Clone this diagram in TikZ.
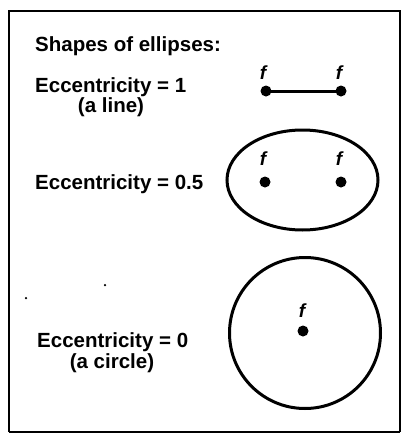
\documentclass[tikz,border=0pt]{standalone}
\usepackage{fontspec}
\setmainfont{Liberation Sans}
\usetikzlibrary{shapes.geometric}
\begin{document}
\begin{tikzpicture}[x=1pt,y=-1pt,
  lbl/.style={inner sep=0pt,anchor=base west,font=\fontsize{20.5}{22}\selectfont\bfseries},
  sub/.style={inner sep=0pt,anchor=base,font=\fontsize{20.5}{22}\selectfont\bfseries},
  foc/.style={circle,fill=black,inner sep=0pt,minimum size=11pt},
  flbl/.style={inner sep=0pt,font=\fontsize{19}{20}\selectfont\bfseries\itshape},
  outl/.style={draw,line width=3pt,inner sep=0pt},
  speck/.style={circle,fill=black,inner sep=0pt,minimum size=2.5pt}]
\useasboundingbox (0,0) rectangle (404,434);
\fill[white] (0,0) rectangle (404,434);
% frame
\draw[line width=2.4pt] (9,432) -- (9,11) -- (400,11) -- (400,432);
\draw[line width=1.2pt] (9,432) -- (400,432);
% texts
\node[lbl] (title) at (35,51) {Shapes of ellipses:};
\node[lbl] (e1) at (35,92) {Eccentricity = 1};
\node[sub] (e1b) at (111,112) {(a line)};
\node[lbl] (e2) at (35,189) {Eccentricity = 0.5};
\node[lbl] (e3) at (37,347) {Eccentricity = 0};
\node[sub] (e3b) at (112,368) {(a circle)};
% line (e = 1)
\node[foc] (l1) at (266,91) {};
\node[foc] (l2) at (341,91) {};
\draw[line width=3pt] (l1.center) -- (l2.center);
\node[flbl] (fl1) at (263,73) {f};
\node[flbl] (fl2) at (339,73) {f};
% ellipse (e = 0.5)
\node[outl,ellipse,minimum width=151pt,minimum height=100pt] (ell) at (302.5,180) {};
\node[foc] (m1) at (265,182) {};
\node[foc] (m2) at (341,182) {};
\node[flbl] (fm1) at (263,159) {f};
\node[flbl] (fm2) at (339,159) {f};
% circle (e = 0)
\node[outl,circle,minimum size=151pt] (cir) at (305,333) {};
\node[foc] (c1) at (303,331) {};
\node[flbl] (fc1) at (302,311) {f};
% specks
\node[speck] (s1) at (105,285) {};
\node[speck] (s2) at (26,298) {};
\end{tikzpicture}
\end{document}
